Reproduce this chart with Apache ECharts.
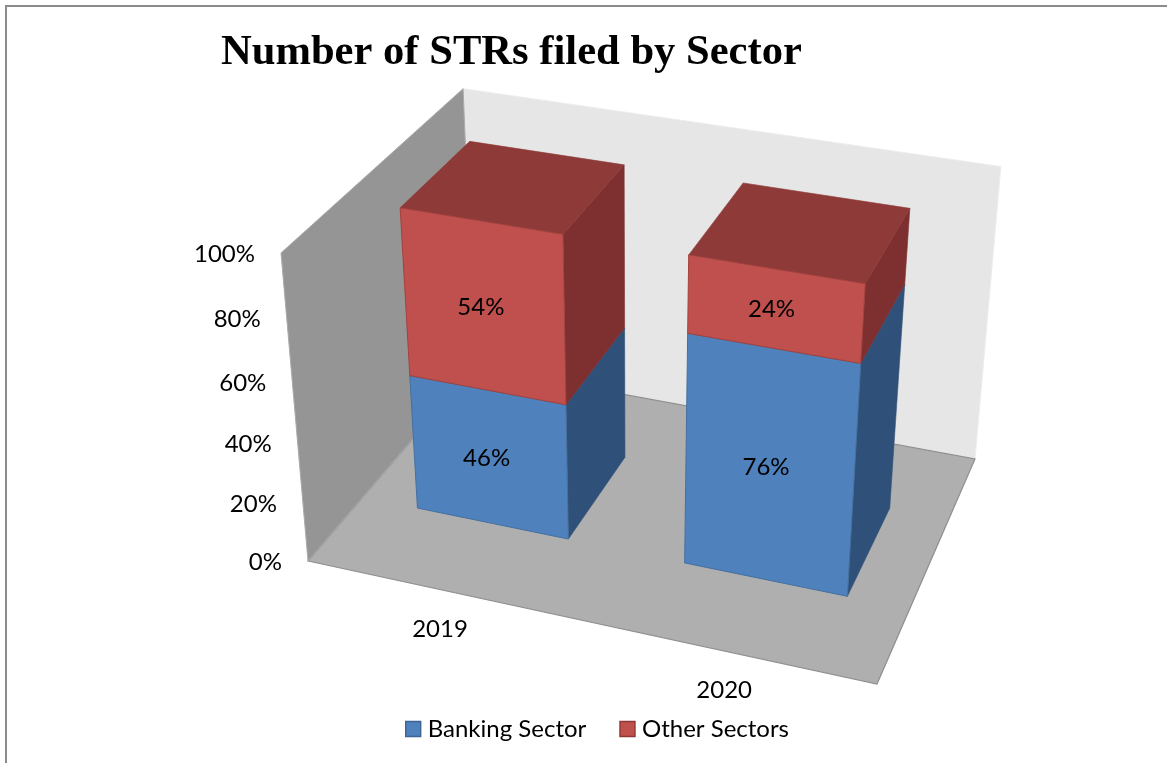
<!DOCTYPE html>
<html>
<head>
<meta charset="utf-8">
<style>
  html, body { margin: 0; padding: 0; background: #fff; }
  #chart { width: 1167px; height: 763px; }
</style>
<script src="https://cdn.jsdelivr.net/npm/echarts@6/dist/echarts.min.js"></script>
</head>
<body>
<div id="chart"></div>
<script>
// Values of the chart
const categories = ['2019', '2020'];
const bankingSector = [46, 76];
const otherSectors = [54, 24];
const valueTicks = [0, 20, 40, 60, 80, 100];
const tickLabels = ['0%', '20%', '40%', '60%', '80%', '100%'];

// Perspective camera: (u, h, d), each 0..1, to screen pixels.
// u runs along the categories, h up the value axis, d from front to back.
const CAMERA = [
  [502.57, -48.4, 238.48, 308],
  [71.19, -327.3, -138.33, 561],
  [-0.07575, -0.07616, 0.1517, 1]
];
function project(u, h, d) {
  const row = (r) => r[0] * u + r[1] * h + r[2] * d + r[3];
  const w = row(CAMERA[2]);
  return [row(CAMERA[0]) / w, row(CAMERA[1]) / w];
}

const BAR_SHARE = 0.574;   // bar width as a share of the category band
const BAR_FRONT = 0.3;     // depth of the bar's front face
const BAR_BACK = 0.7;      // depth of the bar's back face
const FONT = 'Lato, Carlito, sans-serif';

function poly(points, fill, stroke, lineWidth) {
  return {
    type: 'polygon',
    shape: { points: points },
    style: { fill: fill, stroke: stroke || null, lineWidth: lineWidth || 0 }
  };
}

function label(pos, text, align) {
  return {
    type: 'text',
    x: pos[0],
    y: pos[1],
    style: {
      text: text,
      fill: '#000',
      font: '24px ' + FONT,
      align: align || 'center',
      verticalAlign: 'middle'
    }
  };
}

// Floor and the two walls
function renderRoom() {
  return {
    type: 'group',
    children: [
      poly([project(0, 0, 1), project(1, 0, 1), project(1, 1, 1), project(0, 1, 1)], '#E6E6E6', '#EDEDED', 1),
      poly([project(0, 0, 0), project(1, 0, 0), project(1, 0, 1), project(0, 0, 1)], '#AFAFAF', '#8E8E8E', 1.2),
      poly([project(0, 0, 0), project(0, 0, 1), project(0, 1, 1), project(0, 1, 0)], '#959595', '#ABABAB', 1)
    ]
  };
}

// One stacked segment: three visible faces plus its value label
function makeSegmentRenderer(faces) {
  return function (params, api) {
    const cs = params.coordSys;
    const low = api.coord([api.value(0), api.value(1)]);
    const high = api.coord([api.value(0), api.value(2)]);
    const band = api.size([1, 0])[0];
    const half = band * BAR_SHARE / 2;
    const u0 = (low[0] - half - cs.x) / cs.width;
    const u1 = (low[0] + half - cs.x) / cs.width;
    const h0 = (cs.y + cs.height - low[1]) / cs.height;
    const h1 = (cs.y + cs.height - high[1]) / cs.height;
    const centre = project((u0 + u1) / 2, (h0 + h1) / 2, BAR_FRONT);
    return {
      type: 'group',
      children: [
        poly([project(u1, h0, BAR_FRONT), project(u1, h0, BAR_BACK), project(u1, h1, BAR_BACK), project(u1, h1, BAR_FRONT)], faces.side, faces.side, 0.6),
        poly([project(u0, h1, BAR_FRONT), project(u1, h1, BAR_FRONT), project(u1, h1, BAR_BACK), project(u0, h1, BAR_BACK)], faces.top, faces.top, 0.6),
        poly([project(u0, h0, BAR_FRONT), project(u1, h0, BAR_FRONT), project(u1, h1, BAR_FRONT), project(u0, h1, BAR_FRONT)], faces.front, faces.edge, 1),
        label([centre[0] - 3, centre[1]], Math.round(api.value(2) - api.value(1)) + '%')
      ]
    };
  };
}

const BLUE = { front: '#4F81BD', side: '#2F5079', top: '#3F6797', edge: '#44709F' };
const RED = { front: '#C0504D', side: '#7D302F', top: '#8E3A38', edge: '#A3423F' };

function segmentSeries(name, starts, values, faces) {
  return {
    name: name,
    type: 'custom',
    coordinateSystem: 'cartesian2d',
    clip: false,
    silent: true,
    itemStyle: { color: faces.front },
    encode: { x: 0, y: [1, 2] },
    data: values.map((v, i) => [i, starts[i], starts[i] + v]),
    renderItem: makeSegmentRenderer(faces)
  };
}

const option = {
  animation: false,
  backgroundColor: '#fff',
  title: {
    text: 'Number of STRs filed by Sector',
    left: 221,
    top: 31,
    padding: 0,
    textStyle: { fontFamily: '"Liberation Serif", serif', fontWeight: 'bold', fontSize: 42.6, color: '#000' }
  },
  legend: {
    left: 405,
    top: 717,
    padding: 0,
    itemWidth: 15,
    itemHeight: 15,
    itemGap: 33,
    textStyle: { fontFamily: FONT, fontSize: 24, color: '#000', padding: [0, 0, 0, 2] },
    data: [
      { name: 'Banking Sector', icon: 'rect', itemStyle: { color: BLUE.front, borderColor: '#3A6595', borderWidth: 1.4 } },
      { name: 'Other Sectors', icon: 'rect', itemStyle: { color: RED.front, borderColor: '#8C3836', borderWidth: 1.4 } }
    ]
  },
  grid: { left: 0, right: 0, top: 0, bottom: 0 },
  xAxis: { type: 'category', data: categories, show: false },
  yAxis: { type: 'value', min: 0, max: 100, interval: 20, show: false },
  graphic: [{
    type: 'polyline',
    shape: { points: [[6, 763], [6, 6], [1167, 6]] },
    style: { stroke: '#8C8C8C', lineWidth: 2, fill: null },
    silent: true
  }],
  series: [
    {
      name: 'room',
      type: 'custom',
      coordinateSystem: 'none',
      silent: true,
      data: [0],
      renderItem: renderRoom
    },
    segmentSeries('Banking Sector', categories.map(() => 0), bankingSector, BLUE),
    segmentSeries('Other Sectors', bankingSector, otherSectors, RED),
    {
      name: 'value axis',
      type: 'custom',
      coordinateSystem: 'cartesian2d',
      clip: false,
      silent: true,
      encode: { x: 0, y: 1 },
      data: valueTicks.map((v) => [0, v]),
      renderItem: function (params, api) {
        const cs = params.coordSys;
        const py = api.coord([0, api.value(1)])[1];
        const edge = project(0, (cs.y + cs.height - py) / cs.height, 0);
        return label([edge[0] - 26, edge[1] + 1], tickLabels[params.dataIndex], 'right');
      }
    },
    {
      name: 'category axis',
      type: 'custom',
      coordinateSystem: 'cartesian2d',
      clip: false,
      silent: true,
      encode: { x: 0, y: 1 },
      data: categories.map((c, i) => [i, 0]),
      renderItem: function (params, api) {
        const cs = params.coordSys;
        const px = api.coord([api.value(0), 0])[0];
        const foot = project((px - cs.x) / cs.width, 0, 0);
        return label([foot[0] - 2, foot[1] + 39], categories[params.dataIndex]);
      }
    }
  ]
};

const chart = echarts.init(document.getElementById('chart'), null, { renderer: 'canvas' });
chart.setOption(option);
</script>
</body>
</html>
